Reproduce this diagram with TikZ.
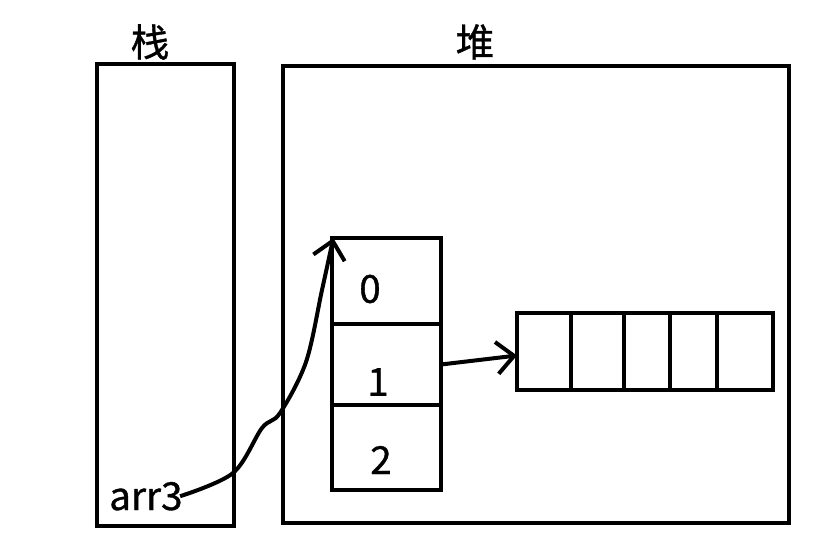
\documentclass[tikz,border=0pt]{standalone}
\usepackage{fontspec}
\setmainfont{Noto Sans CJK SC}
\newfontfamily\lblfont[FakeBold=0.9]{Noto Sans CJK SC}
\usetikzlibrary{arrows.meta}
\tikzset{
  box/.style={draw, line width=3.2pt, inner sep=0pt, outer sep=0pt},
  lbl/.style={inner sep=0pt, font=\lblfont\fontsize{29}{32}\selectfont},
  title/.style={inner sep=0pt, font=\lblfont\fontsize{29}{32}\selectfont},
  link/.style={line width=3pt, -{Straight Barb[length=13pt,width=24pt,line width=3pt]}},
}
\begin{document}
\begin{tikzpicture}[x=0.75pt,y=-0.75pt]
\useasboundingbox (0,0) rectangle (832,554);
% stack and heap
\node[box, minimum width=102.75pt, minimum height=346.5pt] (stack) at (165.5,295) {};
\node[box, minimum width=379.5pt, minimum height=342.75pt] (heap) at (536,294.5) {};
\node[title] (tstack) at (150,42) {栈};
\node[title] (theap) at (475,42) {堆};
% array of three
\node[box, minimum width=81.75pt, minimum height=64.5pt] (c0) at (386.5,281) {};
\node[box, minimum width=81.75pt, minimum height=60.75pt] (c1) at (386.5,364.5) {};
\node[box, minimum width=81.75pt, minimum height=63.75pt] (c2) at (386.5,447.5) {};
\node[lbl] (n0) at (370,289) {0};
\node[lbl] (n1) at (378,382) {1};
\node[lbl] (n2) at (381,460) {2};
% array of five
\node[box, minimum width=40.5pt, minimum height=57.75pt] (s0) at (544,351.5) {};
\node[box, minimum width=39.75pt, minimum height=57.75pt] (s1) at (597.5,351.5) {};
\node[box, minimum width=34.5pt, minimum height=57.75pt] (s2) at (647,351.5) {};
\node[box, minimum width=35.25pt, minimum height=57.75pt] (s3) at (693.5,351.5) {};
\node[box, minimum width=42pt, minimum height=57.75pt] (s4) at (745,351.5) {};
% variable
\node[lbl, anchor=base west] (arr3) at (109,510) {arr3};
% links
\draw[link] (c1.east) -- ([yshift=-3pt]s0.west);
\draw[link] plot[smooth, tension=0.55] coordinates {([xshift=-2pt]arr3.east) (233,473) (262,428) (280,413) (306,362) (322,290) ([xshift=1pt]c0.north west)};
\end{tikzpicture}
\end{document}
